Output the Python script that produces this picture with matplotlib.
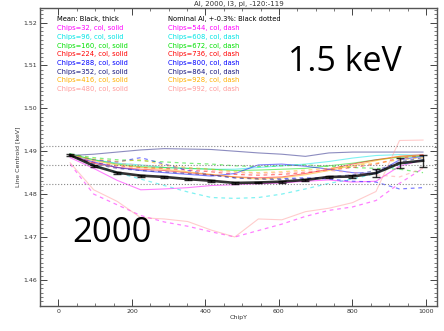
import numpy as np
import matplotlib
matplotlib.use('Agg')
import matplotlib.pyplot as plt
from matplotlib.ticker import MultipleLocator

# chip Y bins
chipy = [32, 96, 160, 224, 288, 352, 416, 480, 544, 608, 672, 736, 800, 864, 928, 992]

mean = [1.4891, 1.4866, 1.4850, 1.4843, 1.4840, 1.4835, 1.4831, 1.4826,
        1.4827, 1.4829, 1.4833, 1.4840, 1.4841, 1.4849, 1.4872, 1.4878]
mean_err = [0.0002, 0.0002, 0.0002, 0.0002, 0.0002, 0.0002, 0.0002, 0.0002,
            0.0002, 0.0002, 0.0002, 0.0002, 0.0003, 0.0010, 0.0012, 0.0014]

nominal = 1.4867

# solid lines (chips 32..480)
c32 = [1.4885, 1.4860, 1.4832, 1.4810, 1.4812, 1.4815, 1.4820, 1.4822,
       1.4824, 1.4826, 1.4830, 1.4833, 1.4828, 1.4830, 1.4865, 1.4880]
c96 = [1.4893, 1.4880, 1.4872, 1.4868, 1.4862, 1.4860, 1.4858, 1.4858,
       1.4862, 1.4866, 1.4870, 1.4876, 1.4884, 1.4890, 1.4892, 1.4890]
c160 = [1.4894, 1.4880, 1.4870, 1.4864, 1.4862, 1.4860, 1.4858, 1.4855,
        1.4856, 1.4858, 1.4860, 1.4866, 1.4872, 1.4880, 1.4886, 1.4888]
c224 = [1.4890, 1.4872, 1.4862, 1.4858, 1.4855, 1.4850, 1.4845, 1.4840,
        1.4838, 1.4840, 1.4848, 1.4858, 1.4870, 1.4880, 1.4888, 1.4892]
c288 = [1.4890, 1.4875, 1.4862, 1.4855, 1.4850, 1.4846, 1.4842, 1.4848,
        1.4868, 1.4870, 1.4865, 1.4858, 1.4850, 1.4848, 1.4880, 1.4888]
c352 = [1.4890, 1.4893, 1.4898, 1.4903, 1.4906, 1.4905, 1.4904, 1.4900,
        1.4896, 1.4893, 1.4888, 1.4896, 1.4898, 1.4898, 1.4898, 1.4898]
c416 = [1.4892, 1.4878, 1.4868, 1.4862, 1.4858, 1.4852, 1.4846, 1.4840,
        1.4835, 1.4838, 1.4845, 1.4855, 1.4866, 1.4878, 1.4888, 1.4890]
c480 = [1.4873, 1.4810, 1.4783, 1.4745, 1.4742, 1.4736, 1.4716, 1.4700,
        1.4742, 1.4740, 1.4759, 1.4767, 1.4780, 1.4806, 1.4925, 1.4926]

# dashed lines (chips 544..992)
c544 = [1.4870, 1.4800, 1.4775, 1.4750, 1.4735, 1.4725, 1.4712, 1.4700,
        1.4715, 1.4730, 1.4748, 1.4762, 1.4770, 1.4785, 1.4825, 1.4860]
c608 = [1.4890, 1.4868, 1.4850, 1.4835, 1.4820, 1.4805, 1.4792, 1.4790,
        1.4792, 1.4800, 1.4812, 1.4825, 1.4835, 1.4848, 1.4868, 1.4880]
c672 = [1.4893, 1.4885, 1.4880, 1.4878, 1.4875, 1.4872, 1.4870, 1.4866,
        1.4864, 1.4866, 1.4868, 1.4865, 1.4862, 1.4860, 1.4858, 1.4850]
c736 = [1.4890, 1.4874, 1.4866, 1.4862, 1.4860, 1.4856, 1.4852, 1.4846,
        1.4844, 1.4846, 1.4850, 1.4856, 1.4862, 1.4870, 1.4884, 1.4890]
c800 = [1.4890, 1.4880, 1.4875, 1.4885, 1.4870, 1.4855, 1.4845, 1.4838,
        1.4836, 1.4836, 1.4838, 1.4835, 1.4830, 1.4828, 1.4812, 1.4815]
c864 = [1.4891, 1.4870, 1.4860, 1.4855, 1.4852, 1.4848, 1.4844, 1.4838,
        1.4835, 1.4834, 1.4836, 1.4840, 1.4845, 1.4855, 1.4875, 1.4885]
c928 = [1.4892, 1.4882, 1.4876, 1.4880, 1.4868, 1.4862, 1.4858, 1.4852,
        1.4850, 1.4852, 1.4856, 1.4860, 1.4866, 1.4872, 1.4880, 1.4885]
c992 = [1.4888, 1.4878, 1.4872, 1.4868, 1.4864, 1.4860, 1.4855, 1.4850,
        1.4848, 1.4850, 1.4852, 1.4855, 1.4850, 1.4845, 1.4840, 1.4860]

colors = ['#ff00ff', '#00e5e5', '#00e000', '#ff0000', '#0000ff', '#1a1a80', '#ffb000', '#ff9a9a']
solid = [c32, c96, c160, c224, c288, c352, c416, c480]
dashed = [c544, c608, c672, c736, c800, c864, c928, c992]
solid_lab = ['Chips=32, col, solid', 'Chips=96, col, solid', 'Chips=160, col, solid',
             'Chips=224, col, solid', 'Chips=288, col, solid', 'Chips=352, col, solid',
             'Chips=416, col, solid', 'Chips=480, col, solid']
dash_lab = ['Chips=544, col, dash', 'Chips=608, col, dash', 'Chips=672, col, dash',
            'Chips=736, col, dash', 'Chips=800, col, dash', 'Chips=864, col, dash',
            'Chips=928, col, dash', 'Chips=992, col, dash']

fig = plt.figure(figsize=(4.44, 3.31), dpi=100)
ax = fig.add_axes([40/444, 25/331, 397/444, 298/331])

for i in range(8):
    ax.plot(chipy, solid[i], '-', color=colors[i], lw=0.8, alpha=0.5)
    ax.plot(chipy, dashed[i], '--', color=colors[i], lw=0.9, alpha=0.5, dashes=(3, 3))

for v in [nominal*1.003, nominal, nominal*0.997]:
    ax.axhline(v, color='#888888', ls=':', lw=0.8)

ax.errorbar(chipy, mean, yerr=mean_err, color='black', lw=1.9, capsize=3,
            elinewidth=1.0, capthick=1.0, alpha=0.8)

ax.set_xlim(-50, 1030)
ax.set_ylim(1.4539, 1.5234)
ax.xaxis.set_major_locator(MultipleLocator(200))
ax.xaxis.set_minor_locator(MultipleLocator(50))
ax.yaxis.set_major_locator(MultipleLocator(0.01))
ax.yaxis.set_minor_locator(MultipleLocator(0.001))
ax.yaxis.set_major_formatter(plt.FuncFormatter(lambda v, p: '%.2f' % v))
ax.tick_params(which='both', direction='in', top=True, right=True, color='#444444',
               labelsize=4.5, labelcolor='#333333', pad=2)
ax.tick_params(which='major', length=5, width=0.7)
ax.tick_params(which='minor', length=2.5, width=0.5)
for s in ax.spines.values():
    s.set_color('#555555')
    s.set_linewidth(1.0)

ax.set_xlabel('ChipY', fontsize=4.5, color='#333333', labelpad=1)
ax.set_ylabel('Line Centroid [keV]', fontsize=4.5, color='#333333', labelpad=2)
ax.text(0.5, 1.004, 'Al, 2000, I3, pi, -120:-119', transform=ax.transAxes,
        ha='center', va='bottom', fontsize=5, color='#333333')

# legend text
ax.text(0.043, 0.962, 'Mean: Black, thick', transform=ax.transAxes, fontsize=4.9,
        color='black', va='center')
ax.text(0.323, 0.962, 'Nominal Al, +-0.3%: Black dotted', transform=ax.transAxes,
        fontsize=4.9, color='black', va='center')
for i in range(8):
    yy = 0.962 - (i + 1) * 0.0293
    ax.text(0.043, yy, solid_lab[i], transform=ax.transAxes, fontsize=4.9,
            color=colors[i], va='center')
    ax.text(0.323, yy, dash_lab[i], transform=ax.transAxes, fontsize=4.9,
            color=colors[i], va='center')

ax.text(0.625, 0.82, '1.5 keV', transform=ax.transAxes, fontsize=24.5,
        family='Open Sans', color='black', va='center')
ax.text(0.08, 0.245, '2000', transform=ax.transAxes, fontsize=25,
        family='Open Sans', color='black', va='center')

fig.savefig('out.png', dpi=100)
